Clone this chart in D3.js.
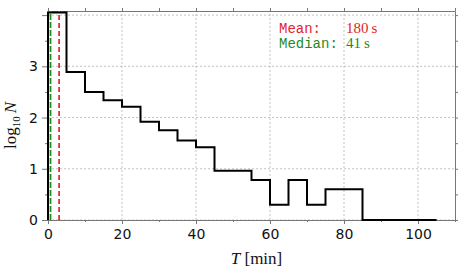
<!DOCTYPE html>
<html>
<head>
<meta charset="utf-8">
<script src="https://cdn.jsdelivr.net/npm/d3@7"></script>
<style>
  body { margin: 0; background: #fff; }
  svg { display: block; }
</style>
</head>
<body>
<svg id="chart"></svg>
<script>
// bin edges in minutes, log10 of counts per bin
const binEdges = [0, 5, 10, 15, 20, 25, 30, 35, 40, 45, 50, 55, 60, 65, 70, 75, 80, 85, 90, 95, 100, 105];
const logCounts = [4.05, 2.89, 2.50, 2.34, 2.21, 1.92, 1.75, 1.55, 1.42, 0.96, 0.96, 0.78, 0.30, 0.78, 0.30, 0.60, 0.60, 0, 0, 0, 0];
const xTicks = [0, 20, 40, 60, 80, 100];
const xMinor = [10, 30, 50, 70, 90, 110];
const yTicks = [0, 1, 2, 3, 4];
const yTickLabels = ["0", "1", "2", "3", ""];
const yMinor = [0.5, 1.5, 2.5, 3.5];
const meanMin = 3;      // 180 s
const medianMin = 41 / 60;
const statLabels = ["Mean:", "Median:"];
const statValues = ["180\u2009s", "41\u2009s"];
const statColors = ["#e3242b", "#1f8a1f"];

function drawChart() {
    const width = 463;
    const height = 274;
    const margin = { left: 48, right: 8, top: 11, bottom: 54 };

    const svg = d3.select("#chart")
        .attr("width", width)
        .attr("height", height);

    const x = d3.scaleLinear().domain([0, 110]).range([margin.left, width - margin.right]);
    const y = d3.scaleLinear().domain([0, 4.08]).range([height - margin.bottom, margin.top]);

    const x0 = x.range()[0], x1 = x.range()[1];
    const y0 = y.range()[0], y1 = y.range()[1];

    // grid
    const grid = svg.append("g")
        .attr("stroke", "#b4b4b4")
        .attr("stroke-width", 0.8)
        .attr("stroke-dasharray", "2,2");
    grid.selectAll(".gx").data(xTicks).enter().append("line")
        .attr("x1", d => x(d)).attr("x2", d => x(d))
        .attr("y1", y0).attr("y2", y1);
    grid.selectAll(".gy").data(yTicks).enter().append("line")
        .attr("x1", x0).attr("x2", x1)
        .attr("y1", d => y(d)).attr("y2", d => y(d));

    // axes (all four sides, ticks outward)
    const axisColor = "#777";
    const styleAxis = g => {
        g.select(".domain").attr("stroke", axisColor);
        g.selectAll(".tick line").attr("stroke", axisColor);
        g.selectAll("text").attr("fill", "#111")
            .style("font-family", "'DejaVu Sans', sans-serif")
            .style("font-size", "14px");
    };

    svg.append("g")
        .attr("transform", `translate(0,${y0})`)
        .call(d3.axisBottom(x).tickValues(xTicks).tickSize(4).tickSizeOuter(0).tickPadding(5))
        .call(styleAxis);
    svg.append("g")
        .attr("transform", `translate(0,${y0})`)
        .call(d3.axisBottom(x).tickValues(xMinor).tickSize(2).tickSizeOuter(0).tickFormat(""))
        .call(styleAxis);
    svg.append("g")
        .attr("transform", `translate(0,${y1})`)
        .call(d3.axisTop(x).tickValues(xTicks.concat(xMinor)).tickSize(3).tickSizeOuter(0).tickFormat(""))
        .call(styleAxis);

    svg.append("g")
        .attr("transform", `translate(${x0},0)`)
        .call(d3.axisLeft(y).tickValues(yTicks).tickSize(6).tickSizeOuter(0).tickPadding(4)
            .tickFormat((d, i) => yTickLabels[i]))
        .call(styleAxis);
    svg.append("g")
        .attr("transform", `translate(${x0},0)`)
        .call(d3.axisLeft(y).tickValues(yMinor).tickSize(3).tickSizeOuter(0).tickFormat(""))
        .call(styleAxis);
    svg.append("g")
        .attr("transform", `translate(${x1},0)`)
        .call(d3.axisRight(y).tickValues(yTicks.concat(yMinor)).tickSize(3).tickSizeOuter(0).tickFormat(""))
        .call(styleAxis);

    // histogram as a step line
    const steps = binEdges.map((e, i) => ({ t: e, v: i < logCounts.length ? logCounts[i] : logCounts[logCounts.length - 1] }));
    const stepLine = d3.line()
        .x(d => x(d.t))
        .y(d => y(d.v))
        .curve(d3.curveStepAfter);
    svg.append("path")
        .datum([{ t: 0, v: 0 }].concat(steps))
        .attr("fill", "none")
        .attr("stroke", "#000")
        .attr("stroke-width", 2)
        .attr("d", stepLine);

    // mean and median markers
    svg.append("line")
        .attr("x1", x(meanMin)).attr("x2", x(meanMin))
        .attr("y1", y0).attr("y2", y1)
        .attr("stroke", statColors[0])
        .attr("stroke-width", 1.7)
        .attr("stroke-dasharray", "5,3");
    svg.append("line")
        .attr("x1", x(medianMin)).attr("x2", x(medianMin))
        .attr("y1", y0).attr("y2", y1)
        .attr("stroke", statColors[1])
        .attr("stroke-width", 1.7)
        .attr("stroke-dasharray", "6,2");

    // stats annotation
    statLabels.forEach((lab, i) => {
        svg.append("text")
            .attr("x", 279).attr("y", 33 + i * 15)
            .attr("fill", statColors[i])
            .style("font-family", "'Liberation Mono', monospace")
            .style("font-size", "14px")
            .text(lab);
        svg.append("text")
            .attr("x", 346).attr("y", 33 + i * 15)
            .attr("fill", statColors[i])
            .style("font-family", "'Liberation Serif', serif")
            .style("font-size", "15px")
            .text(statValues[i]);
    });

    // axis labels
    const xl = svg.append("text")
        .attr("x", (x0 + x1) / 2 + 5).attr("y", 264)
        .attr("text-anchor", "middle")
        .style("font-family", "'Liberation Serif', serif")
        .style("font-size", "17px")
        .attr("fill", "#111");
    xl.append("tspan").style("font-style", "italic").text("T");
    xl.append("tspan").text(" [min]");

    const yl = svg.append("text")
        .attr("transform", `translate(16,${(y0 + y1) / 2 + 10}) rotate(-90)`)
        .attr("text-anchor", "middle")
        .style("font-family", "'Liberation Serif', serif")
        .style("font-size", "17px")
        .attr("fill", "#111");
    yl.append("tspan").text("log");
    yl.append("tspan").attr("dy", 4).style("font-size", "11px").text("10");
    yl.append("tspan").attr("dy", -4).attr("dx", 3).style("font-style", "italic").text("N");
}

drawChart();
</script>
</body>
</html>
